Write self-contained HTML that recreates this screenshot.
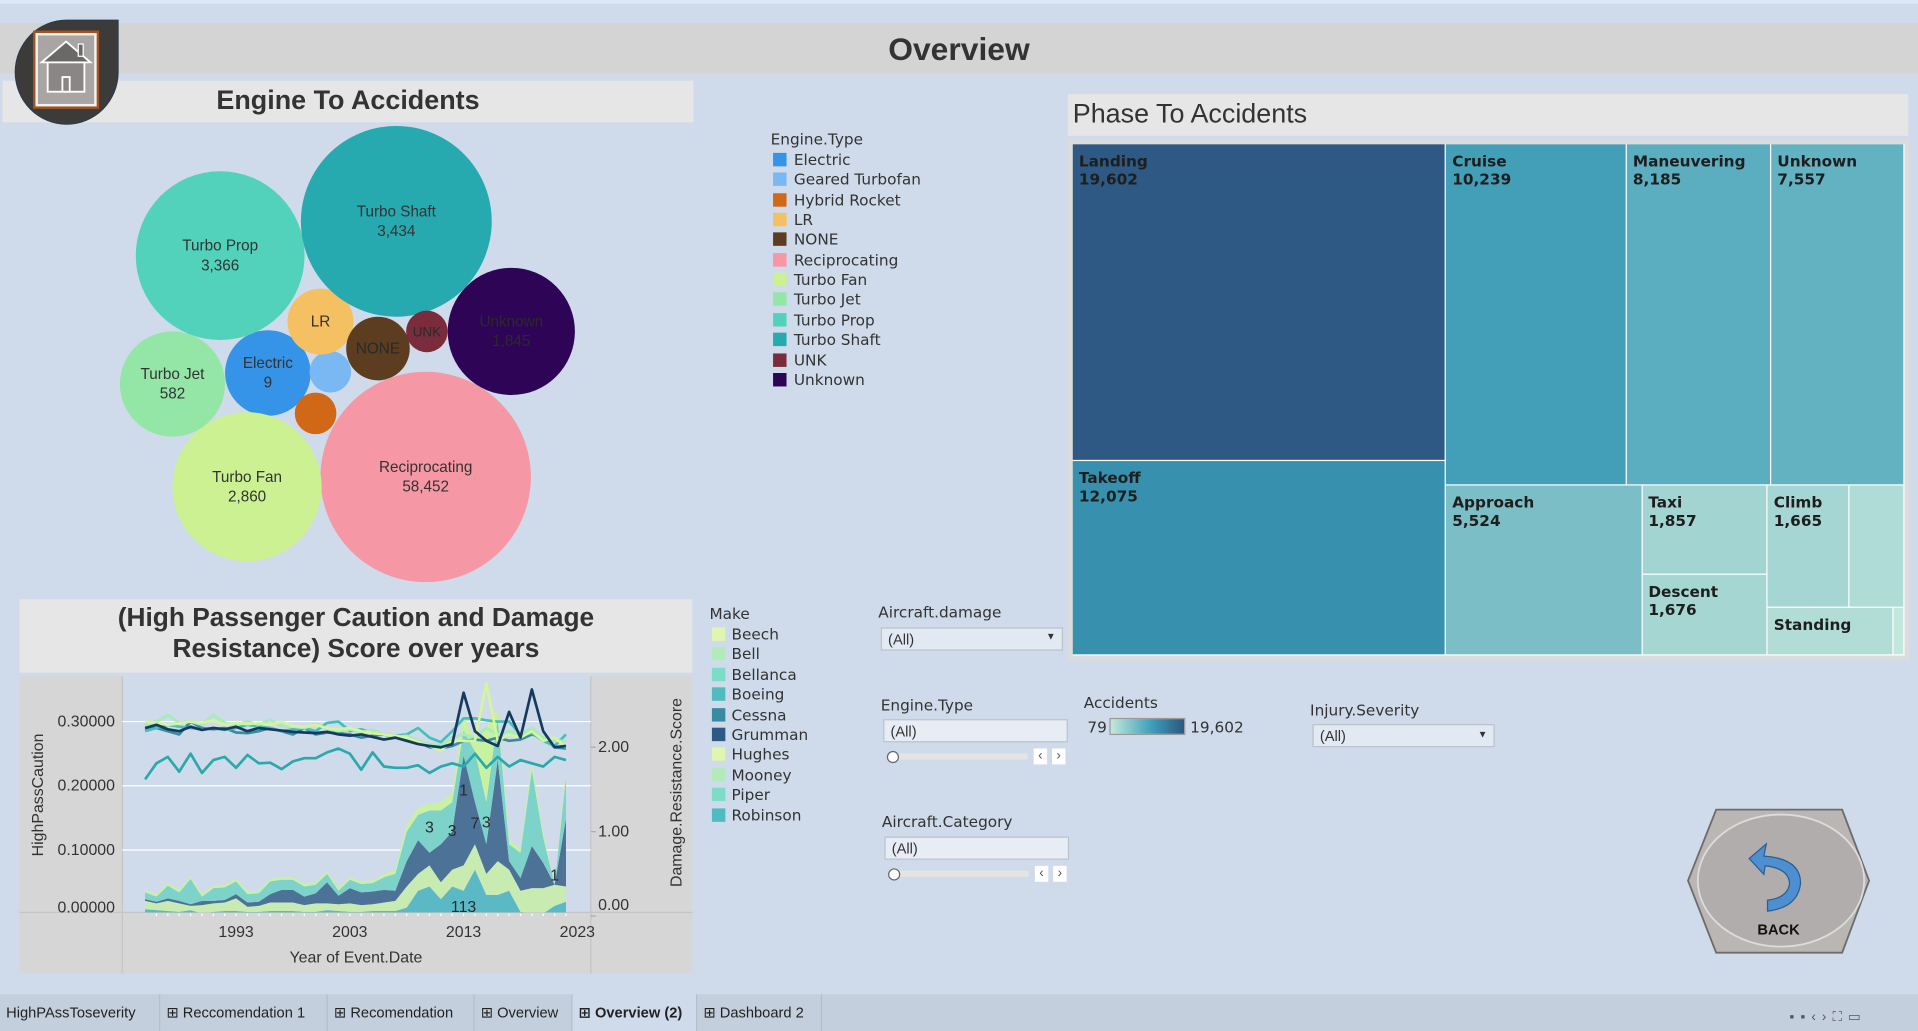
<!DOCTYPE html>
<html><head><meta charset="utf-8">
<style>
html,body{margin:0;padding:0;width:1918px;height:1031px;overflow:hidden;background:#cfdbea;}
#root{position:absolute;left:0;top:0;width:1568px;height:843px;transform-origin:0 0;transform:scale(1.22321,1.22301);background:#cfdbea;font-family:"Liberation Sans","DejaVu Sans",sans-serif;color:#333;overflow:hidden;}
.abs{position:absolute;}
.lg{font-family:"DejaVu Sans","Liberation Sans",sans-serif;font-size:12.5px;color:#333;}
.sw{position:absolute;width:11px;height:11px;}
.box{position:absolute;background:#e3e9f3;border:1px solid #b9c1cc;font-size:12px;color:#333;box-sizing:border-box;padding:2px 5px;}
.tab{position:absolute;top:813px;height:30px;line-height:30px;font-size:12px;color:#222;border-right:1px solid #b4bfcc;padding:0 5px;box-sizing:border-box;white-space:nowrap;overflow:hidden;}
</style></head><body>
<div id="root">
  <div class="abs" style="left:0;top:0;width:1568px;height:3px;background:#dbe8f7"></div>
  <div class="abs" style="left:0;top:19px;width:1568px;height:41px;background:#d4d4d4"></div>
  <div class="abs" style="left:0;top:25px;width:1568px;text-align:center;font-size:26px;font-weight:bold;color:#333">Overview</div>

  <div class="abs" style="left:2px;top:66px;width:565px;height:34px;background:#e6e6e6"></div>
  <div class="abs" style="left:2px;top:69px;width:565px;text-align:center;font-size:22px;font-weight:bold;color:#333">Engine To Accidents</div>

  <div class="abs" style="left:13px;top:17px;width:83px;height:84px;background:#3d3b3a;border-radius:50% 0 50% 50%;box-shadow:0 0 0 1px #2a3a4c">
    <div class="abs" style="left:16px;top:10px;width:50px;height:60px;background:#a9a5a3;border:2px solid #f2f2f2;box-shadow:0 0 0 2px #a5521c;box-sizing:border-box">
      <svg width="46" height="56" viewBox="0 0 46 56"><polygon points="3,22 23,5 43,22" fill="#6b6868" stroke="#fff" stroke-width="1.5"/><rect x="33" y="7" width="4" height="10" fill="#6b6868" stroke="#fff" stroke-width="1"/><rect x="8" y="22" width="30" height="24" fill="#8a8686" stroke="#fff" stroke-width="1.5"/><rect x="20" y="34" width="6" height="12" fill="#8a8686" stroke="#fff" stroke-width="1.5"/></svg>
    </div>
  </div>

  <svg id="bubbles" class="abs" style="left:0;top:0" width="600" height="490"></svg>

  <div class="abs lg" style="left:630px;top:106px;width:160px;height:220px">
    <div class="abs" style="left:0;top:0">Engine.Type</div>
    <div id="englegend"></div>
  </div>

  <div class="abs" style="left:873px;top:77px;width:687px;height:34px;background:#e6e6e6"></div>
  <div class="abs" style="left:877px;top:80px;font-size:22px;color:#333">Phase To Accidents</div>
  <div class="abs" style="left:873px;top:114px;width:688px;height:426px;background:#dcdcdc"></div>
  <div id="treemap" class="abs" style="left:877px;top:118px;width:680px;height:418px;background:#fff"></div>

  <div class="abs" style="left:16px;top:490px;width:550px;height:60px;background:#e6e6e6"></div>
  <div class="abs" style="left:16px;top:493px;width:550px;text-align:center;font-size:21.5px;font-weight:bold;line-height:25px;color:#333">(High Passenger Caution and Damage<br>Resistance) Score over years</div>
  <svg id="trend" class="abs" style="left:0;top:0" width="580" height="800"></svg>

  <div class="abs lg" style="left:580px;top:494px;width:120px;height:180px">
    <div class="abs" style="left:0;top:0">Make</div>
    <div id="makelegend"></div>
  </div>

  <div class="abs lg" style="left:718px;top:493px">Aircraft.damage</div>
  <div class="box" style="left:720px;top:513px;width:149px;height:19px;padding-top:2px">(All)<span style="position:absolute;right:5px;top:2px;font-size:8px">▼</span></div>

  <div class="abs lg" style="left:720px;top:569px">Engine.Type</div>
  <div class="box" style="left:722px;top:588px;width:151px;height:19px;background:#e8edf5">(All)</div>
  <div class="abs" style="left:726px;top:616px;width:114px;height:5px;background:#e4e4e4"></div>
  <div class="abs" style="left:725px;top:614px;width:8px;height:8px;border-radius:50%;background:#fff;border:1px solid #666"></div>
  <div class="abs" style="left:845px;top:612px;width:11px;height:13px;background:#fff;font-size:11px;line-height:13px;text-align:center;color:#555">‹</div>
  <div class="abs" style="left:860px;top:612px;width:11px;height:13px;background:#fff;font-size:11px;line-height:13px;text-align:center;color:#555">›</div>

  <div class="abs lg" style="left:886px;top:567px">Accidents</div>
  <div class="abs lg" style="left:889px;top:587px">79</div>
  <div class="abs" style="left:907px;top:587px;width:62px;height:14px;background:linear-gradient(90deg,#c4e8dc,#3f9fba 55%,#2b5783);border:1px solid #999;box-sizing:border-box"></div>
  <div class="abs lg" style="left:973px;top:587px">19,602</div>

  <div class="abs lg" style="left:1071px;top:573px">Injury.Severity</div>
  <div class="box" style="left:1073px;top:592px;width:149px;height:19px">(All)<span style="position:absolute;right:5px;top:3px;font-size:8px">▼</span></div>

  <div class="abs lg" style="left:721px;top:664px">Aircraft.Category</div>
  <div class="box" style="left:723px;top:684px;width:151px;height:19px;background:#e8edf5">(All)</div>
  <div class="abs" style="left:727px;top:712px;width:114px;height:5px;background:#e4e4e4"></div>
  <div class="abs" style="left:726px;top:710px;width:8px;height:8px;border-radius:50%;background:#fff;border:1px solid #666"></div>
  <div class="abs" style="left:846px;top:708px;width:11px;height:13px;background:#fff;font-size:11px;line-height:13px;text-align:center;color:#555">‹</div>
  <div class="abs" style="left:861px;top:708px;width:11px;height:13px;background:#fff;font-size:11px;line-height:13px;text-align:center;color:#555">›</div>

  <svg class="abs" style="left:1370px;top:650px" width="170" height="145">
    <polygon points="10,70 33,12 136,12 158,70 136,129 33,129" fill="#b9b6b4" stroke="#6e6c6b" stroke-width="1.5"/>
    <ellipse cx="86" cy="70" rx="68" ry="54" fill="#b1adac" stroke="#dcdcdc" stroke-width="1.5"/>
    <path d="M72,50 Q102,52 102,72 Q100,92 75,95 L75,86 Q92,84 93,72 Q92,60 73,58 L72,65 L60,52 L74,40 Z" fill="#4e8fd2" stroke="#2b5d8f" stroke-width="1"/>
    <text x="84" y="114" text-anchor="middle" font-family="Liberation Sans, sans-serif" font-weight="bold" font-size="12" fill="#111">BACK</text>
  </svg>

  <div class="abs" style="left:0;top:813px;width:1568px;height:30px;background:#c4cfdd"></div>
  <div class="tab" style="left:0;width:131px">HighPAssToseverity</div>
  <div class="tab" style="left:131px;width:137px">⊞ Reccomendation 1</div>
  <div class="tab" style="left:268px;width:120px">⊞ Recomendation</div>
  <div class="tab" style="left:388px;width:80px">⊞ Overview</div>
  <div class="tab" style="left:468px;width:102px;background:#cfdbea;font-weight:bold">⊞ Overview (2)</div>
  <div class="tab" style="left:570px;width:102px">⊞ Dashboard 2</div>
  <div class="abs" style="left:1463px;top:825px;font-size:11px;color:#555;letter-spacing:5px;white-space:nowrap">▪▪‹›⛶▭</div>
</div>

<script>
const NS="http://www.w3.org/2000/svg";
function mk(tag,attrs,parent){const e=document.createElementNS(NS,tag);for(const k in attrs)e.setAttribute(k,attrs[k]);parent.appendChild(e);return e;}

/* ---------- Engine bubbles ---------- */
const engNames=["Electric","Geared Turbofan","Hybrid Rocket","LR","NONE","Reciprocating","Turbo Fan","Turbo Jet","Turbo Prop","Turbo Shaft","UNK","Unknown"];
const engCounts=[9,null,null,null,null,58452,2860,582,3366,3434,null,1845];
const engSize=[1225,289,289,729,676,7396,3721,1849,4761,6084,289,2704];
const engColors=["#3593e8","#7ab8f3","#d06818","#f5c062","#5c3d20","#f597a4","#ccf192","#93e6a6","#52d2bb","#27a9b0","#7b2c3c","#2e0457"];
const engLayoutX=[219,270,258,262,309,348,202,141,180,324,349,418];
const engLayoutY=[305,304,338,263,285,390,398,314,209,181,271,271];
const bsv=document.getElementById('bubbles');
engNames.forEach((n,i)=>{
  const r=Math.sqrt(engSize[i]);
  const c=mk('circle',{cx:engLayoutX[i],cy:engLayoutY[i],r:r,fill:engColors[i]},bsv);
  
  
  let lab=null;
  if(r>24){lab=n;}
  if(n==="UNK")lab="UNK";
  if(lab){
    const tc=(n==="Unknown"||n==="NONE"||n==="UNK")?"#2a2a2a":"#333";
    const two=engCounts[i]!==null;
    const t=mk('text',{x:engLayoutX[i],y:engLayoutY[i]+(two?-4:4),'text-anchor':'middle','font-size':(n==="UNK"?11:12.5),fill:tc,'font-family':'Liberation Sans, sans-serif'},bsv);
    t.textContent=lab;
    
    
    if(two){const t2=mk('text',{x:engLayoutX[i],y:engLayoutY[i]+12,'text-anchor':'middle','font-size':12.5,fill:tc,'font-family':'Liberation Sans, sans-serif'},bsv);
      t2.textContent=engCounts[i].toLocaleString('en-US');
      
      }
  }
});
const el=document.getElementById('englegend');
engNames.forEach((n,i)=>{
  const d=document.createElement('div');d.className='abs';d.style.left='2px';d.style.top=(18+i*16.35)+'px';d.style.whiteSpace='nowrap';
  d.innerHTML='<span class="sw" style="left:0;top:1px;background:'+engColors[i]+'"></span><span style="position:absolute;left:17px;top:-1px">'+n+'</span>';
  
  
  el.appendChild(d);
});

/* ---------- Treemap ---------- */
const phaseNames=["Landing","Takeoff","Cruise","Maneuvering","Unknown","Approach","Taxi","Descent","Climb","Other","Standing","Go-around"];
const phaseValues=[19602,12075,10239,8185,7557,5524,1857,1676,1665,1105,1000,87];
const phaseTree={d:'h',c:[{d:'v',c:[0,1]},{d:'v',c:[{d:'h',c:[2,3,4]},{d:'h',c:[5,{d:'v',c:[6,7]},{d:'v',c:[{d:'h',c:[8,9]},{d:'h',c:[10,11]}]}]}]}]};
function tsum(n){return typeof n==='number'?phaseValues[n]:n.c.reduce((a,b)=>a+tsum(b),0);}
function hex(c){return [parseInt(c.slice(1,3),16),parseInt(c.slice(3,5),16),parseInt(c.slice(5,7),16)];}
const stops=[[0,"#c4e8dc"],[0.09,"#a3d5d2"],[0.28,"#7bbec6"],[0.39,"#61b1c2"],[0.52,"#439fb8"],[0.62,"#378fae"],[1,"#2d5984"]];
function col(v){const t=v/19602;for(let i=1;i<stops.length;i++){if(t<=stops[i][0]){const a=hex(stops[i-1][1]),b=hex(stops[i][1]);const f=(t-stops[i-1][0])/(stops[i][0]-stops[i-1][0]);return 'rgb('+a.map((x,j)=>Math.round(x+(b[j]-x)*f)).join(',')+')';}}return stops[stops.length-1][1];}
const tm=document.getElementById('treemap');
function lay(n,x,y,w,h){
  if(typeof n==='number'){
    const d=document.createElement('div');d.className='abs';
    d.style.cssText='left:'+x+'px;top:'+y+'px;width:'+(w-1)+'px;height:'+(h-1)+'px;background:'+col(phaseValues[n])+';font-family:"DejaVu Sans",sans-serif;font-weight:bold;font-size:12.5px;color:#1e1e1e;line-height:15px;padding:6px 0 0 5px;box-sizing:border-box;overflow:hidden;white-space:nowrap';
    if(w>55&&h>30){d.innerHTML=phaseNames[n]+(h>55?'<br>'+phaseValues[n].toLocaleString('en-US'):'');}
    
    
    tm.appendChild(d);return;}
  const tot=tsum(n);let off=0;
  n.c.forEach(ch=>{const f=tsum(ch)/tot;
    if(n.d==='h'){lay(ch,x+off,y,w*f,h);off+=w*f;}else{lay(ch,x,y+off,w,h*f);off+=h*f;}});
}
lay(phaseTree,0,0,680,418);

/* ---------- Trend chart ---------- */
const years=[];for(let y=1985;y<=2022;y++)years.push(y);
const xTicks=[1993,2003,2013,2023];
const leftTicks=[0,0.1,0.2,0.3];
const leftTickLabels=["0.00000","0.10000","0.20000","0.30000"];
const rightTicks=[0,1,2];
const rightTickLabels=["0.00","1.00","2.00"];
const makeNames=["Beech","Bell","Bellanca","Boeing","Cessna","Grumman","Hughes","Mooney","Piper","Robinson"];
const makeColors=["#dff5b0","#b3eab9","#7cdcc8","#4fbcc0","#3a8aa0","#2d5a82","#dff5b0","#b3eab9","#7cdcc8","#4fbcc0"];
const areaA=[0.08,0.07,0.06,0.05,0.07,0.03,0.05,0.06,0.06,0.05,0.05,0.06,0.06,0.06,0.05,0.05,0.07,0.06,0.05,0.05,0.06,0.06,0.06,0.1,0.3,0.35,0.2,0.35,0.3,0.55,0.25,0.25,0.3,0.05,0.03,0.03,0.12,0.17];
const areaB=[0.1,0.08,0.12,0.1,0.05,0.1,0.1,0.1,0.15,0.06,0.07,0.1,0.1,0.1,0.08,0.1,0.08,0.08,0.1,0.08,0.08,0.1,0.12,0.25,0.2,0.25,0.2,0.2,0.3,0.3,0.25,0.4,0.25,0.25,0.3,0.3,0.25,0.18];
const areaC=[0.02,0.02,0.03,0.03,0.02,0.05,0.03,0.03,0.05,0.05,0.05,0.1,0.15,0.15,0.1,0.12,0.25,0.1,0.18,0.15,0.15,0.15,0.12,0.3,0.4,0.15,0.45,0.45,1.3,0.5,0.35,1.2,0.1,0.15,0.5,0.3,0.0,0.8];
const areaD=[0.08,0.06,0.15,0.1,0.3,0.05,0.15,0.15,0.15,0.1,0.1,0.15,0.12,0.12,0.12,0.1,0.1,0.06,0.1,0.1,0.1,0.15,0.2,0.35,0.3,0.5,0.4,0.35,0.3,0.6,0.5,0.5,0.2,0.3,0.9,0.3,0.0,0.5];
const areaE=[0.03,0.03,0.03,0.03,0.03,0.03,0.03,0.03,0.03,0.03,0.03,0.03,0.03,0.03,0.03,0.03,0.03,0.03,0.03,0.03,0.03,0.03,0.05,0.08,0.08,0.08,0.1,0.1,0.2,0.1,0.9,0.1,0.05,0.05,0.1,0.05,0.0,0.1];
const areaColors=["#5ab9c4","#c8ebb2","#4d7298","#7dd3ca","#c9f2a0"];
const lineGrumman=[0.29,0.295,0.288,0.285,0.292,0.287,0.29,0.288,0.292,0.285,0.29,0.288,0.286,0.284,0.283,0.282,0.284,0.28,0.278,0.28,0.276,0.272,0.275,0.27,0.265,0.262,0.26,0.265,0.345,0.285,0.27,0.262,0.315,0.275,0.35,0.285,0.26,0.262];
const lineBoeing=[0.21,0.235,0.245,0.222,0.25,0.22,0.24,0.245,0.228,0.248,0.235,0.236,0.226,0.238,0.243,0.243,0.252,0.258,0.25,0.225,0.252,0.23,0.228,0.228,0.232,0.22,0.23,0.235,0.23,0.25,0.228,0.245,0.23,0.24,0.235,0.23,0.245,0.24];
const lineCessna=[0.288,0.29,0.285,0.28,0.3,0.29,0.288,0.29,0.283,0.282,0.285,0.29,0.285,0.28,0.29,0.28,0.283,0.282,0.28,0.275,0.278,0.28,0.275,0.27,0.268,0.26,0.258,0.262,0.27,0.272,0.27,0.275,0.27,0.272,0.28,0.275,0.26,0.258];
const lineRobinson=[0.285,0.29,0.295,0.292,0.29,0.288,0.29,0.287,0.29,0.295,0.292,0.29,0.285,0.288,0.29,0.285,0.298,0.3,0.285,0.288,0.282,0.28,0.278,0.28,0.29,0.275,0.268,0.285,0.305,0.305,0.302,0.3,0.3,0.28,0.282,0.27,0.262,0.28];
const lineMooney=[0.295,0.3,0.31,0.298,0.3,0.295,0.31,0.298,0.295,0.3,0.295,0.303,0.293,0.292,0.29,0.296,0.289,0.285,0.288,0.283,0.287,0.28,0.275,0.278,0.27,0.265,0.262,0.275,0.28,0.275,0.29,0.28,0.285,0.28,0.29,0.275,0.27,0.27];
const lineHughes=[0.3,0.298,0.295,0.297,0.3,0.298,0.302,0.295,0.298,0.296,0.298,0.295,0.3,0.293,0.292,0.295,0.29,0.288,0.29,0.285,0.282,0.28,0.278,0.275,0.268,0.262,0.255,0.27,0.27,0.27,0.36,0.27,0.28,0.275,0.285,0.27,0.275,0.26];
const lineColors=["#7dd3ca","#2aa9ab","#3a8aa0","#45c0b8","#a8ecb8","#d4f59a","#163a5f"];
const annYears=[2013,2010,2012,2014,2015,2013,2021];
const annValues=[1.43,0.99,0.95,1.04,1.05,0.05,0.42];
const annTexts=["1","3","3","7","3","113","1"];

const P={l:100,r:483,t:553,b:746};
const X=y=>193+(y-1993)*9.3;
const YL=v=>747.5-v*525;
const YR=v=>749-v*69;
const sv=document.getElementById('trend');
mk('rect',{x:16,y:553,width:550,height:243,fill:'#d6d6d6'},sv);
mk('rect',{x:P.l,y:P.t,width:P.r-P.l,height:P.b-P.t,fill:'#cfdbea'},sv);
mk('line',{x1:16,y1:P.b,x2:566,y2:P.b,stroke:'#c4c4c4'},sv);
mk('line',{x1:P.l,y1:P.t,x2:P.l,y2:796,stroke:'#c4c4c4'},sv);
mk('line',{x1:P.r,y1:P.t,x2:P.r,y2:796,stroke:'#c4c4c4'},sv);
leftTicks.forEach((v,i)=>{ if(v>0){const g=mk('line',{x1:P.l,x2:P.r,y1:YL(v),y2:YL(v),stroke:'#fff','stroke-width':1},sv);}
  const t=mk('text',{x:94,y:Math.min(YL(v),742)+4,'text-anchor':'end','font-size':13,fill:'#333'},sv);t.textContent=leftTickLabels[i];
  });
rightTicks.forEach((v,i)=>{const t=mk('text',{x:489,y:Math.min(YR(v),740)+4,'font-size':13,fill:'#333'},sv);t.textContent=rightTickLabels[i];
  
  mk('line',{x1:P.r,x2:P.r+4,y1:YR(v),y2:YR(v),stroke:'#aaa'},sv);});
const clip=mk('clipPath',{id:'pc'},mk('defs',{},sv));mk('rect',{x:P.l,y:P.t,width:P.r-P.l,height:P.b-P.t},clip);
const gA=mk('g',{'clip-path':'url(#pc)'},sv);
const layers=[areaA,areaB,areaC,areaD,areaE];
let base=years.map(()=>0);
layers.forEach((L,li)=>{
  const top=base.map((b,i)=>b+L[i]);
  let d='M'+years.map((y,i)=>X(y)+','+YR(top[i])).join(' L');
  d+=' L'+years.slice().reverse().map((y,k)=>{const i=years.length-1-k;return X(y)+','+YR(base[i]);}).join(' L')+' Z';
  const p=mk('path',{d:d,fill:areaColors[li]},gA);
  
  
  base=top;
});
[lineMooney,lineBoeing,lineCessna,lineRobinson,lineMooney,lineHughes,lineGrumman].forEach((L,li)=>{
  const p=mk('polyline',{points:years.map((y,i)=>X(y)+','+YL(L[i])).join(' '),fill:'none',stroke:lineColors[li],'stroke-width':2.2,'stroke-linejoin':'round'},gA);
  
  
});
annTexts.forEach((s,i)=>{const t=mk('text',{x:X(annYears[i]),y:YR(annValues[i]),'text-anchor':'middle','font-size':13,fill:'#2a2a2a'},sv);t.textContent=s;
  });
for(let y=1986;y<=2022;y++){mk('line',{x1:X(y),x2:X(y),y1:P.b+1,y2:P.b+3,stroke:'#fff','stroke-width':1},sv);}
xTicks.forEach(y=>{const t=mk('text',{x:X(y),y:766,'text-anchor':'middle','font-size':13,fill:'#333'},sv);t.textContent=y;
  });
let t=mk('text',{x:291,y:787,'text-anchor':'middle','font-size':13,fill:'#333'},sv);t.textContent='Year of Event.Date';

t=mk('text',{x:35,y:650,'text-anchor':'middle','font-size':13,fill:'#333',transform:'rotate(-90 35 650)'},sv);t.textContent='HighPassCaution';

t=mk('text',{x:557,y:648,'text-anchor':'middle','font-size':13,fill:'#333',transform:'rotate(-90 557 648)'},sv);t.textContent='Damage.Resistance.Score';


const ml=document.getElementById('makelegend');
makeNames.forEach((n,i)=>{
  const d=document.createElement('div');d.className='abs';d.style.left='2px';d.style.top=(18+i*16.4)+'px';d.style.whiteSpace='nowrap';
  d.innerHTML='<span class="sw" style="left:0;top:1px;background:'+makeColors[i]+'"></span><span style="position:absolute;left:16px;top:-1px">'+n+'</span>';
  
  
  ml.appendChild(d);
});
</script>
</body></html>
